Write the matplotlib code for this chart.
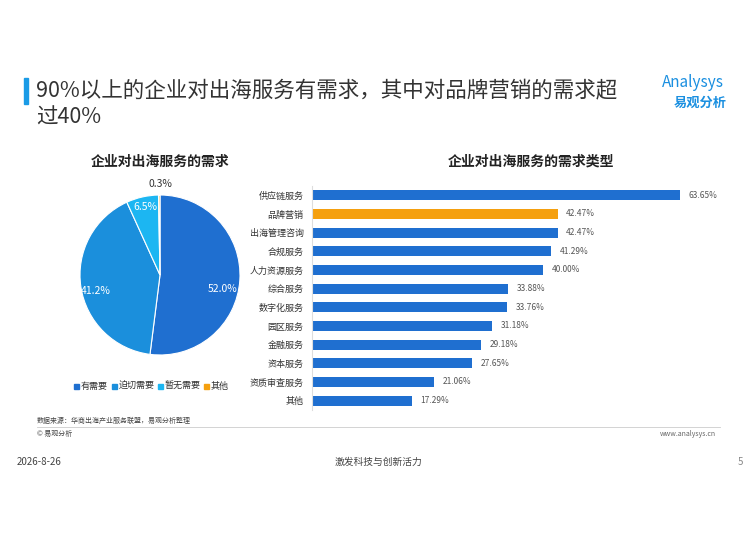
import matplotlib.pyplot as plt
from matplotlib.patches import Rectangle

plt.rcParams['font.family'] = ['Noto Sans CJK SC', 'DejaVu Sans']

pie_labels = ["有需要", "迫切需要", "暂无需要", "其他"]
pie_values = [52.0, 41.2, 6.5, 0.3]
pie_colors = ["#1f6fd0", "#1b8fdc", "#1cb6f2", "#f5a00f"]

bar_cats = ["供应链服务", "品牌营销", "出海管理咨询", "合规服务", "人力资源服务", "综合服务",
            "数字化服务", "园区服务", "金融服务", "资本服务", "资质审查服务", "其他"]
bar_vals = [63.65, 42.47, 42.47, 41.29, 40.00, 33.88, 33.76, 31.18, 29.18, 27.65, 21.06, 17.29]

W, H = 756, 535
fig = plt.figure(figsize=(W / 100, H / 100), dpi=100)

def fx(x): return x / W
def fy(y): return 1 - y / H

# title
fig.patches.append(Rectangle((fx(24), fy(104)), fx(4), 26 / H, transform=fig.transFigure,
                             color="#1a9be6"))
fig.text(fx(36), fy(90), "90%以上的企业对出海服务有需求，其中对品牌营销的需求超", fontsize=15.5,
         color="#333333", va="center")
fig.text(fx(36), fy(118), "过40%", fontsize=15.5, color="#333333", va="center")
fig.text(fx(693), fy(82), "Analysys", fontsize=11, color="#1a8fe0", style="italic",
         ha="center", va="center")
fig.text(fx(700), fy(103), "易观分析", fontsize=9.5, color="#1a8fe0", ha="center", va="center",
         weight="bold")

fig.text(fx(160), fy(162), "企业对出海服务的需求", fontsize=10, ha="center", va="center",
         weight="bold", color="#222222")
fig.text(fx(531), fy(162), "企业对出海服务的需求类型", fontsize=10, ha="center", va="center",
         weight="bold", color="#222222")

# pie
axp = fig.add_axes([fx(80), fy(355), 160 / W, 160 / H])
axp.pie(pie_values, colors=pie_colors, startangle=90, counterclock=False,
        wedgeprops=dict(edgecolor="white", linewidth=0.8), radius=1.0)
axp.set_xlim(-1, 1)
axp.set_ylim(-1, 1)
label_pos = [(0.78, -0.18), (-0.8, -0.2), (-0.18, 0.85), (0.0, 1.14)]
for v, (x, y), c in zip(pie_values, label_pos, ["white", "white", "white", "#333333"]):
    axp.text(x, y, f"{v:.1f}%", ha="center", va="center", fontsize=7.5, color=c, clip_on=False)

# pie legend
lx = 74
for lab, col in zip(pie_labels, pie_colors):
    fig.patches.append(Rectangle((fx(lx), fy(389)), 5 / W, 5 / H, transform=fig.transFigure,
                                 color=col))
    fig.text(fx(lx + 7), fy(386), lab, fontsize=6.5, va="center", color="#333333")
    lx += 7 + 8.5 * len(lab) + 5

# bars
axb = fig.add_axes([fx(312), fy(410), fx(680 - 312) * 100 / 63.65, 224 / H])
colors = ["#f5a00f" if c == "品牌营销" else "#1f6fd0" for c in bar_cats]
y = range(len(bar_cats))
axb.barh(y, bar_vals, color=colors, height=0.55)
axb.set_ylim(len(bar_cats) - 0.5, -0.5)
axb.set_xlim(0, 100)
axb.set_yticks(list(y))
axb.set_yticklabels(bar_cats, fontsize=6.5, color="#333333")
axb.tick_params(axis="y", length=0, pad=6)
axb.set_xticks([])
for s in ["top", "right", "bottom"]:
    axb.spines[s].set_visible(False)
axb.spines["left"].set_color("#dddddd")
for i, v in enumerate(bar_vals):
    axb.text(v + 1.5, i, f"{v:.2f}%", va="center", fontsize=6, color="#555555")

# footer
fig.text(fx(37), fy(421), "数据来源：华商出海产业服务联盟，易观分析整理", fontsize=5, color="#444444",
         va="center")
fig.lines.append(plt.Line2D([fx(37), fx(720)], [fy(427), fy(427)], transform=fig.transFigure,
                            color="#cccccc", linewidth=0.6))
fig.text(fx(37), fy(434), "© 易观分析", fontsize=5, color="#444444", va="center")
fig.text(fx(716), fy(434), "www.analysys.cn", fontsize=5, color="#666666", va="center", ha="right")
fig.text(fx(17), fy(462), "2026-8-26", fontsize=7, color="#444444", va="center")
fig.text(fx(378), fy(462), "激发科技与创新活力", fontsize=7, color="#444444", va="center",
         ha="center")
fig.text(fx(738), fy(462), "5", fontsize=7, color="#888888", va="center")

fig.savefig("out.png", dpi=100)
